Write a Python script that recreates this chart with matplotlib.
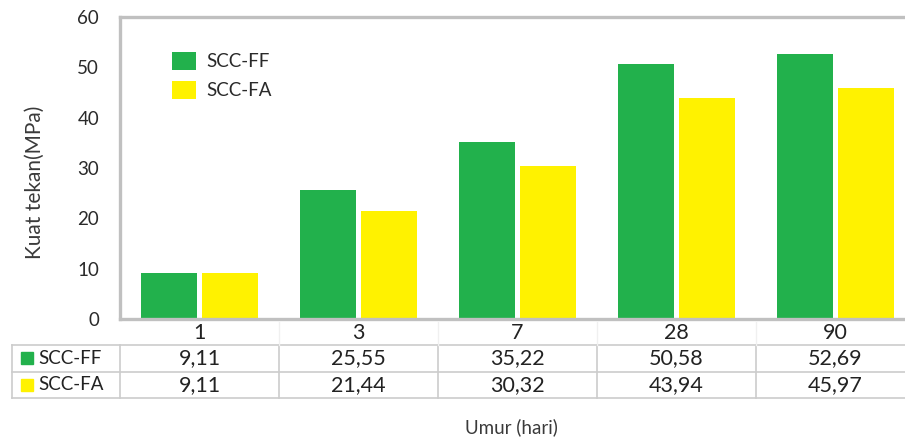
import matplotlib.pyplot as plt
from matplotlib.lines import Line2D
from matplotlib.patches import Rectangle
import matplotlib.transforms as mtransforms
import numpy as np

plt.rcParams['font.family'] = ['Lato', 'DejaVu Sans']

umur = ['1', '3', '7', '28', '90']
scc_ff = [9.11, 25.55, 35.22, 50.58, 52.69]
scc_fa = [9.11, 21.44, 30.32, 43.94, 45.97]
seri = ['SCC-FF', 'SCC-FA']
warna = ['#22b14c', '#fff200']

W, H = 905, 441
fig = plt.figure(figsize=(W / 100, H / 100), dpi=100)

def fx(px):
    return px / W

def fy(py):
    return 1 - py / H

# plot area (runs a bit past the right edge like the source)
ax = fig.add_axes([fx(120), fy(319), fx(915 - 120), (319 - 17) / H])
x = np.arange(len(umur))
lebar = 0.35
b1 = ax.bar(x - 0.193, scc_ff, lebar, color=warna[0], label=seri[0])
b2 = ax.bar(x + 0.193, scc_fa, lebar, color=warna[1], label=seri[1])

ax.set_xlim(-0.5, len(umur) - 0.5)
ax.set_ylim(0, 60)
ax.set_yticks(range(0, 61, 10))
ax.set_xticks([])
ax.tick_params(axis='y', length=0, pad=15, labelsize=13.5, labelcolor='#2a2a2a')
for s in ['top', 'left', 'bottom']:
    ax.spines[s].set_color('#c0c0c0')
    ax.spines[s].set_linewidth(2.4)
ax.spines['right'].set_visible(False)

ax.legend(handles=[b1, b2], loc='upper left', bbox_to_anchor=(0.044, 0.94),
          frameon=False, fontsize=13.5, handlelength=1.3, handleheight=1.1,
          handletextpad=0.55, labelspacing=0.55, labelcolor='#2a2a2a')

fig.text(fx(35), fy(182), 'Kuat tekan(MPa)', rotation=90, ha='center',
         va='center', fontsize=15, color='#3a3a3a')
fig.text(fx(511), fy(427), 'Umur (hari)', ha='center', va='center',
         fontsize=13.5, color='#3a3a3a')

# data table under the chart
trans = mtransforms.blended_transform_factory(ax.transData, fig.transFigure)
garis = '#cccccc'
for yy in [345, 372, 398]:
    fig.add_artist(Line2D([fx(12), 1.0], [fy(yy), fy(yy)], color=garis, lw=1.2))
for xx in [12, 120]:
    fig.add_artist(Line2D([fx(xx), fx(xx)], [fy(345), fy(398)], color=garis, lw=1.2))
for i in range(len(umur)):
    fig.add_artist(Line2D([i + 0.5, i + 0.5], [fy(345), fy(398)], color=garis,
                          lw=1.2, transform=trans))
    fig.add_artist(Line2D([i + 0.5, i + 0.5], [fy(322), fy(345)], color='#f0f0f0',
                          lw=1.0, transform=trans))
    fig.text(i, fy(333), umur[i], transform=trans, ha='center', va='center',
             fontsize=15.5, color='#222222')
    fig.text(i, fy(358), f'{scc_ff[i]:.2f}'.replace('.', ','), transform=trans,
             ha='center', va='center', fontsize=15.5, color='#222222')
    fig.text(i, fy(385), f'{scc_fa[i]:.2f}'.replace('.', ','), transform=trans,
             ha='center', va='center', fontsize=15.5, color='#222222')

for k, (nama, yy) in enumerate(zip(seri, [358, 385])):
    fig.add_artist(Rectangle((fx(21), fy(yy + 6)), fx(12), 12 / H,
                             color=warna[k], transform=fig.transFigure))
    fig.text(fx(38), fy(yy), nama, ha='left', va='center', fontsize=13.5,
             color='#222222')

fig.savefig('out.png', dpi=100, facecolor='white')
